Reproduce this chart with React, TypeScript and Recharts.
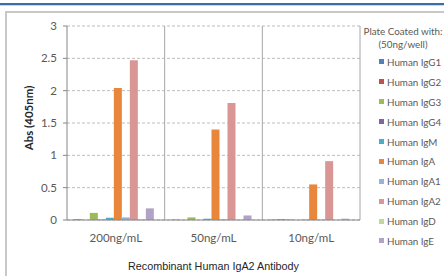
import React from 'react';
import {
  BarChart,
  Bar,
  XAxis,
  YAxis,
  CartesianGrid,
  Label } from
'recharts';

const concentrations = ['200ng/mL', '50ng/mL', '10ng/mL'];

const igG1 = [0.01, 0.005, 0.005];
const igG2 = [0.0, 0.0, 0.01];
const igG3 = [0.11, 0.04, 0.01];
const igG4 = [0.005, 0.0, 0.0];
const igM = [0.035, 0.02, 0.005];
const igA = [2.04, 1.4, 0.55];
const igA1 = [0.04, 0.01, 0.005];
const igA2 = [2.47, 1.81, 0.91];
const igD = [0.01, 0.005, 0.0];
const igE = [0.18, 0.07, 0.02];

const yTicks = [0, 0.5, 1, 1.5, 2, 2.5, 3];

const series = [
{ key: 'IgG1', name: 'Human IgG1', values: igG1, color: '#4F81BD' },
{ key: 'IgG2', name: 'Human IgG2', values: igG2, color: '#C0504D' },
{ key: 'IgG3', name: 'Human IgG3', values: igG3, color: '#9BBB59' },
{ key: 'IgG4', name: 'Human IgG4', values: igG4, color: '#8064A2' },
{ key: 'IgM', name: 'Human IgM', values: igM, color: '#4BACC6' },
{ key: 'IgA', name: 'Human IgA', values: igA, color: '#E8873C' },
{ key: 'IgA1', name: 'Human IgA1', values: igA1, color: '#95B3D7' },
{ key: 'IgA2', name: 'Human IgA2', values: igA2, color: '#D99694' },
{ key: 'IgD', name: 'Human IgD', values: igD, color: '#C3D69B' },
{ key: 'IgE', name: 'Human IgE', values: igE, color: '#B2A2C7' }];

const data = concentrations.map((c, i) => {
  const row: Record<string, string | number> = { name: c };
  series.forEach((s) => {
    row[s.key] = s.values[i];
  });
  return row;
});

const tickFont = { fontFamily: 'Lato, sans-serif', fontSize: 11.5, fill: '#595959' };

function LegendBox() {
  return (
    <div style={{ position: 'absolute', left: 362, top: 25, fontFamily: 'Lato, sans-serif', color: '#595959', fontSize: 9.8 }}>
      <div style={{ textAlign: 'center', lineHeight: '13px', width: 82 }}>
        Plate Coated with:
        <br />
        (50ng/well)
      </div>
      <div style={{ marginTop: 1, marginLeft: 17 }}>
        {series.map((s) =>
        <div key={s.key} style={{ display: 'flex', alignItems: 'center', height: 19.9 }}>
            <span style={{ width: 5, height: 5, background: s.color, marginRight: 3, display: 'inline-block' }} />
            <span>{s.name}</span>
          </div>
        )}
      </div>
    </div>);

}

function YTitle(props: any) {
  const vb = props.viewBox || {};
  const cy = vb.y + vb.height / 2;
  return (
    <text
      x={28}
      y={cy - 5}
      transform={`rotate(-90, 28, ${cy - 5})`}
      textAnchor="middle"
      dominantBaseline="central"
      style={{ fontFamily: 'Lato, sans-serif', fontSize: 11.5, fontWeight: 700, fill: '#262626' }}>
      Abs (405nm)
    </text>);

}

function XTitle(props: any) {
  const vb = props.viewBox || {};
  const cx = vb.x + vb.width / 2;
  return (
    <text
      x={cx}
      y={266}
      textAnchor="middle"
      dominantBaseline="central"
      style={{ fontFamily: 'Liberation Sans, Arial, sans-serif', fontSize: 10.8, fill: '#262626' }}>
      Recombinant Human IgA2 Antibody
    </text>);

}

export default function App() {
  return (
    <div style={{ position: 'absolute', left: 0, top: 0, width: 444, height: 276, background: '#fff', overflow: 'hidden' }}>
      <div style={{ position: 'absolute', left: 0, top: 3, width: 444, height: 2, background: '#3A6EA8' }} />
      <div style={{ position: 'absolute', left: 0, top: 5, width: 444, height: 1, background: '#C9D6E6' }} />
      <div style={{ position: 'absolute', left: 5, top: 11, width: 460, height: 300, borderLeft: '2px solid #C8C8C8', borderTop: '2px solid #C8C8C8' }} />
      <div style={{ position: 'absolute', left: 0, top: 0 }}>
        <BarChart
          width={444}
          height={276}
          data={data}
          margin={{ top: 26, right: 84, bottom: 10, left: 17 }}
          barCategoryGap="7%"
          barGap={0}>
          <CartesianGrid horizontal vertical={false} stroke="#BDBDBD" strokeDasharray="3 2" />
          <CartesianGrid
            horizontal={false}
            vertical
            stroke="#A6A6A6"
            verticalCoordinatesGenerator={({ offset }: any) =>
            concentrations.map((_, i) => offset.left + offset.width * (i + 1) / concentrations.length)
            } />
          <XAxis
            dataKey="name"
            height={46}
            tick={tickFont}
            tickLine={false}
            axisLine={{ stroke: '#868686' }}
            tickMargin={8}>
            <Label content={<XTitle />} />
          </XAxis>
          <YAxis
            width={50}
            domain={[0, 3]}
            ticks={yTicks}
            interval={0}
            tick={tickFont}
            tickSize={4}
            tickMargin={6}
            tickLine={{ stroke: '#868686' }}
            axisLine={{ stroke: '#868686' }}>
            <Label content={<YTitle />} />
          </YAxis>
          {series.map((s) =>
          <Bar key={s.key} dataKey={s.key} name={s.name} fill={s.color} isAnimationActive={false} />
          )}
        </BarChart>
      </div>
      <LegendBox />
    </div>);

}
